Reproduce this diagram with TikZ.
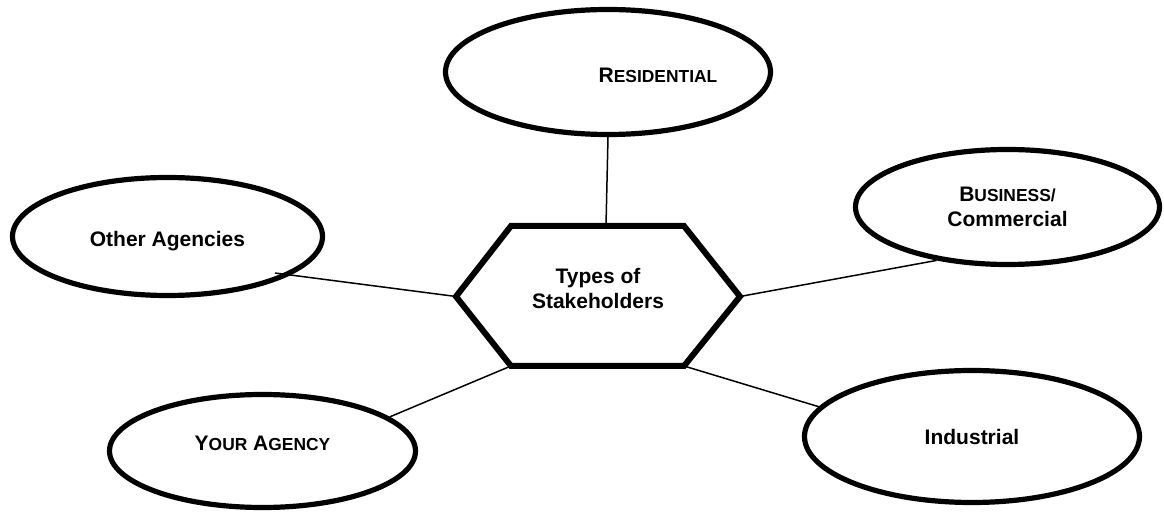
\documentclass[tikz,border=0pt]{standalone}
\usepackage{fontspec}
\setmainfont{Liberation Sans}
\usetikzlibrary{shapes.geometric}
\usetikzlibrary{positioning}

% fake small capitals: big first letter, smaller rest
\newcommand{\smallcapsword}[2]{{\fontsize{10.5}{12.5}\selectfont #1}{\fontsize{8.7}{12.5}\selectfont #2}}

\begin{document}
\begin{tikzpicture}[x=0.5pt, y=-0.5pt,
			group/.style={
					ellipse,
					draw,
					line width=2.6pt,
					inner sep=0pt,
					align=center,
					font=\bfseries\fontsize{10.5}{12.5}\selectfont
				},
			label/.style={align=center, inner sep=0pt, font=\bfseries\fontsize{10.5}{12.5}\selectfont},
			hexline/.style={line width=3pt, line join=miter},
			line/.style={draw, line width=0.75pt}
		]
		\useasboundingbox (0,0) rectangle (1164,513);
		% Hexagon in the middle
		\coordinate (hw) at (456,296.5);
		\coordinate (hnw) at (511,226);
		\coordinate (hne) at (684,226);
		\coordinate (he) at (740,296.5);
		\coordinate (hse) at (684,366);
		\coordinate (hsw) at (511,366);
		\coordinate (hn) at (606,226);
		\draw [hexline] (hw) -- (hnw) -- (hne) -- (he) -- (hse) -- (hsw) -- cycle;
		\node [label] (hub) at (598,288) {Types of\\Stakeholders};
		% Place stakeholder groups
		\node [group, minimum width=162.5pt, minimum height=62.5pt] (residential) at (608,72) {};
		\node [label] (restext) at (658,75) {\smallcapsword{R}{ESIDENTIAL}};
		\node [group, minimum width=152pt, minimum height=57.5pt] (business) at (1007.5,207) {\smallcapsword{B}{USINESS/}\\Commercial};
		\node [group, minimum width=155pt, minimum height=59pt, text height=12.5pt] (other) at (167.5,236.5) {Other Agencies};
		\node [group, minimum width=153pt, minimum height=56.5pt, text depth=8pt] (your) at (262.5,451) {\smallcapsword{Y}{OUR} \smallcapsword{A}{GENCY}};
		\node [group, minimum width=167.5pt, minimum height=66pt] (industrial) at (972,436.5) {Industrial};
		\coordinate (otherend) at (275,273);
		% Draw edges
		\path [line] (residential.south) -- (hn);
		\path [line] (business.217) -- (he);
		\path [line] (otherend) -- (hw);
		\path [line] (your.15) -- (hsw);
		\path [line] (industrial.169) -- (hse);
	\end{tikzpicture}
\end{document}
